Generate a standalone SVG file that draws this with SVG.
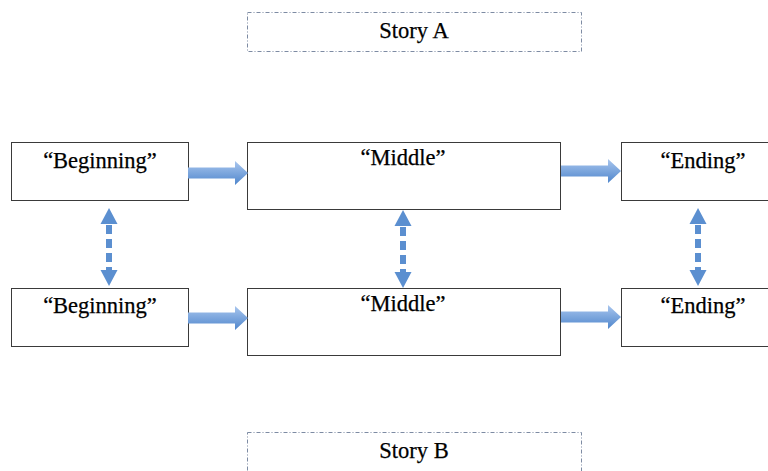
<svg xmlns="http://www.w3.org/2000/svg" width="768" height="471" viewBox="0 0 768 471">
<defs>
<linearGradient id="hg" x1="0" y1="0" x2="0" y2="1">
<stop offset="0" stop-color="#a9c6ee"/>
<stop offset="1" stop-color="#4f86cc"/>
</linearGradient>
<g id="harrow">
<path d="M0,-5.5 H47 V-12 L60,0 L47,12 V5.5 H0 Z" fill="url(#hg)"/>
</g>
<g id="varrow">
<path d="M0,0 L8.5,16 H-8.5 Z" fill="#5b8fd0"/>
<path d="M0,0 L8.5,-16 H-8.5 Z" fill="#5b8fd0" transform="translate(0,78)"/>
<line x1="0" y1="17" x2="0" y2="62" stroke="#5b8fd0" stroke-width="6" stroke-dasharray="9 5"/>
</g>
</defs>
<style>
.node rect{fill:#fff;stroke:#3a3a3a;stroke-width:1}
.story rect{fill:#fff;stroke:#7d8ba3;stroke-width:1;stroke-dasharray:4 2 1 2}
text{font-family:"Liberation Serif","DejaVu Serif",serif;font-size:22.5px;fill:#000;stroke:#000;stroke-width:0.25;text-anchor:middle}
</style>
<rect width="768" height="471" fill="#fff"/>
<g id="storyA" class="story"><rect x="247.5" y="12.5" width="334" height="39"/><text x="414" y="38">Story A</text></g>
<g id="storyB" class="story"><rect x="247.5" y="432.5" width="334" height="45"/><text x="414" y="458">Story B</text></g>
<g id="begin1" class="node"><rect x="11.5" y="142.5" width="177" height="58"/><text x="100" y="168">“Beginning”</text></g>
<g id="middle1" class="node"><rect x="247.5" y="142.5" width="313" height="67"/><text x="403" y="165">“Middle”</text></g>
<g id="end1" class="node"><rect x="621.5" y="142.5" width="160" height="58"/><text x="703" y="168">“Ending”</text></g>
<g id="begin2" class="node"><rect x="11.5" y="288.5" width="177" height="58"/><text x="100" y="313">“Beginning”</text></g>
<g id="middle2" class="node"><rect x="247.5" y="288.5" width="313" height="67"/><text x="403" y="311">“Middle”</text></g>
<g id="end2" class="node"><rect x="621.5" y="288.5" width="160" height="58"/><text x="703" y="313">“Ending”</text></g>
<g id="connectors">
<use href="#harrow" x="188" y="173"/>
<use href="#harrow" x="561" y="171"/>
<use href="#harrow" x="188" y="318"/>
<use href="#harrow" x="561" y="317"/>
<use href="#varrow" x="109" y="208"/>
<use href="#varrow" x="403" y="210"/>
<use href="#varrow" x="698" y="208"/>
</g>
</svg>
